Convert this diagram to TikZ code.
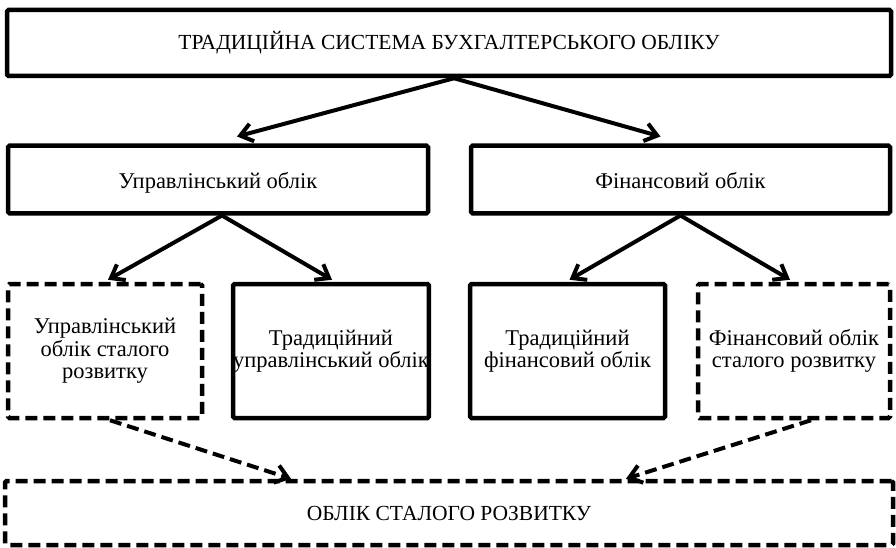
\documentclass[tikz,border=0pt]{standalone}
\usepackage{fontspec}
\setmainfont{Liberation Serif}
\usetikzlibrary{arrows.meta}
\begin{document}
\begin{tikzpicture}[x=1pt,y=-1pt,
  font=\fontsize{22.5}{22.5}\selectfont,
  capsfont/.style={font=\fontsize{21.5}{22}\selectfont},
  box/.style={draw, line width=4.5pt, rounded corners=1.5pt, inner sep=0pt, align=center},
  dbox/.style={box, dash pattern=on 12pt off 6pt},
  onerow/.style={text height=18pt, text depth=0pt},
  arr/.style={line width=4pt, -{Straight Barb[length=12pt,width=18pt,line width=4pt]}},
  darr/.style={arr, dash pattern=on 12pt off 6pt}]
  \useasboundingbox (0,0) rectangle (896,548);

  % top level
  \node[box, capsfont, minimum width=884pt, minimum height=66pt] (top) at (449,43)
    {ТРАДИЦІЙНА СИСТЕМА БУХГАЛТЕРСЬКОГО ОБЛІКУ};

  % second level
  \node[box, onerow, minimum width=420pt, minimum height=67.5pt] (mgmt) at (218,179.5)
    {Управлінський облік};
  \node[box, onerow, minimum width=419pt, minimum height=67.5pt] (fin) at (680.5,179.5)
    {Фінансовий облік};

  % third level
  \node[dbox, minimum width=194pt, minimum height=134pt] (b1) at (105,351)
    {Управлінський\\облік сталого\\розвитку};
  \node[box, minimum width=194pt, minimum height=134pt] (b2) at (331,351)
    {Традиційний\\управлінський облік};
  \node[box, minimum width=195pt, minimum height=134pt] (b3) at (567.5,351)
    {Традиційний\\фінансовий облік};
  \node[dbox, minimum width=192pt, minimum height=134pt] (b4) at (794,351)
    {Фінансовий облік\\сталого розвитку};

  % bottom level
  \node[dbox, capsfont, minimum width=888pt, minimum height=64pt] (bot) at (449,513)
    {ОБЛІК СТАЛОГО РОЗВИТКУ};

  % connectors
  \draw[arr] ([xshift=5pt]top.south) -- ([xshift=19pt,yshift=7pt]mgmt.north);
  \draw[arr] ([xshift=5pt]top.south) -- ([xshift=-20pt,yshift=7pt]fin.north);
  \draw[arr] ([xshift=4pt]mgmt.south) -- ([xshift=3pt,yshift=2pt]b1.north);
  \draw[arr] ([xshift=4pt]mgmt.south) -- ([xshift=1pt,yshift=2pt]b2.north);
  \draw[arr] (fin.south) -- ([xshift=2pt,yshift=2pt]b3.north);
  \draw[arr] (fin.south) -- ([xshift=-4pt,yshift=2pt]b4.north);
  \draw[darr] ([xshift=5pt]b1.south) -- ([xshift=-158pt]bot.north);
  \draw[darr] ([xshift=17pt]b4.south) -- ([xshift=177pt]bot.north);
\end{tikzpicture}
\end{document}
